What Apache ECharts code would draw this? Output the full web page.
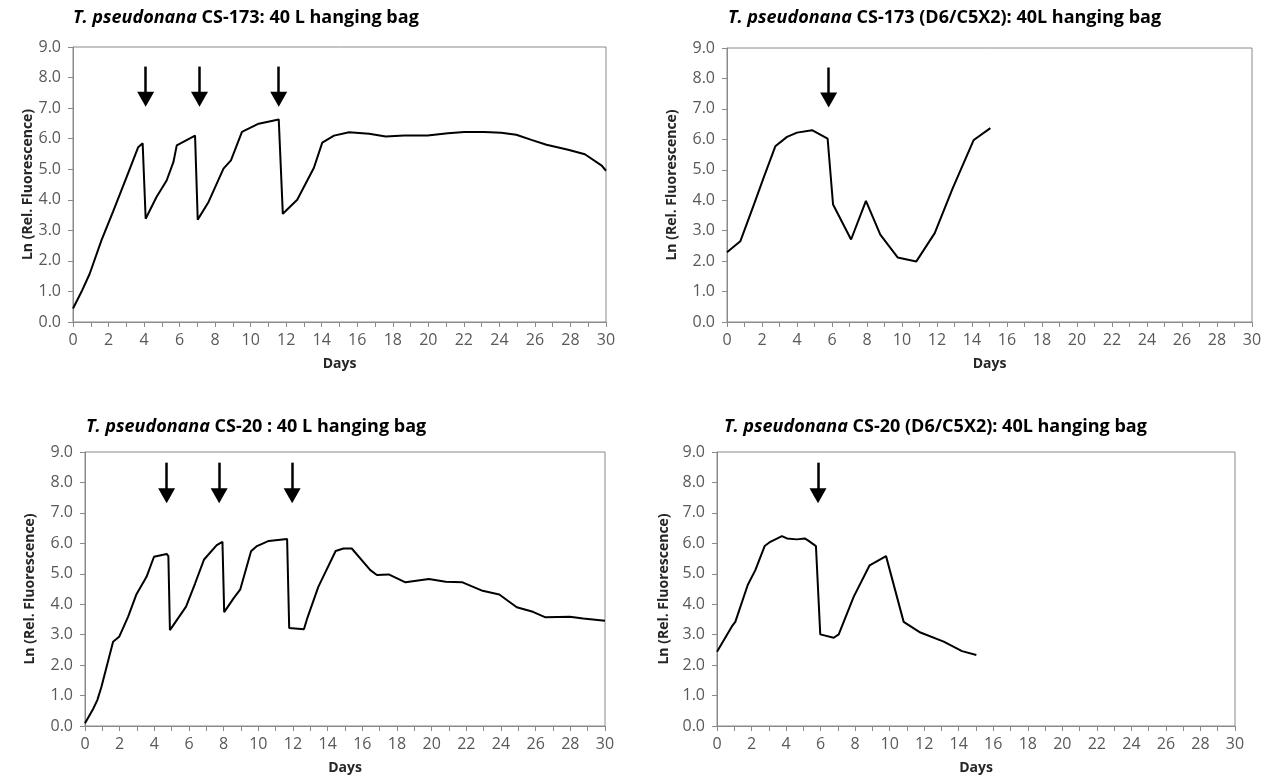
<!DOCTYPE html>
<html>
<head>
<meta charset="utf-8">
<script src="https://cdn.jsdelivr.net/npm/echarts@6/dist/echarts.min.js"></script>
<style>
html,body{margin:0;padding:0;background:#fff;}
#chart{width:1267px;height:780px;}
</style>
</head>
<body>
<div id="chart"></div>
<script>
// ---- Data ----
// Panel A: T. pseudonana CS-173, 40 L hanging bag
const cs173Days = [0, 0.47, 0.94, 1.6, 2.26, 3.0, 3.67, 3.92, 4.09, 4.7, 5.27, 5.65, 5.84, 6.87, 7.02, 7.63, 8.47, 8.89, 9.51, 10.45, 11.58, 11.81, 12.62, 13.56, 14.03, 14.69, 15.54, 16.67, 17.6, 18.64, 19.96, 21.1, 22.03, 23.16, 24.1, 24.95, 25.8, 26.65, 27.87, 28.81, 29.76, 30];
const cs173Vals = [0.44, 0.98, 1.58, 2.67, 3.62, 4.72, 5.72, 5.85, 3.38, 4.09, 4.63, 5.23, 5.78, 6.1, 3.35, 3.93, 5.02, 5.29, 6.22, 6.49, 6.63, 3.54, 4.0, 5.05, 5.87, 6.1, 6.21, 6.16, 6.07, 6.1, 6.1, 6.18, 6.22, 6.22, 6.19, 6.13, 5.96, 5.8, 5.64, 5.49, 5.12, 4.95];
const cs173Arrows = [4.09, 7.12, 11.58];

// Panel B: T. pseudonana CS-173 (D6/C5X2), 40L hanging bag
const cs173tDays = [0, 0.76, 1.5, 2.1, 2.76, 3.43, 4.0, 4.86, 5.75, 6.06, 7.09, 7.94, 8.76, 9.75, 10.82, 11.87, 12.9, 14.1, 15.05];
const cs173tVals = [2.29, 2.65, 3.8, 4.75, 5.77, 6.08, 6.22, 6.3, 6.02, 3.86, 2.71, 3.98, 2.87, 2.12, 1.99, 2.92, 4.4, 5.98, 6.37];
const cs173tArrows = [5.81];

// Panel C: T. pseudonana CS-20, 40 L hanging bag
const cs20Days = [0, 0.46, 0.71, 0.95, 1.62, 1.97, 2.49, 2.97, 3.55, 3.98, 4.71, 4.81, 4.9, 5.0, 5.83, 6.35, 6.87, 7.6, 7.93, 8.03, 8.57, 8.96, 9.58, 9.92, 10.6, 11.66, 11.78, 12.63, 12.8, 13.46, 14.46, 14.91, 15.39, 16.46, 16.84, 17.52, 18.49, 19.84, 20.81, 21.78, 22.94, 23.9, 24.91, 25.84, 26.57, 27.97, 28.74, 30];
const cs20Vals = [0.09, 0.55, 0.85, 1.29, 2.77, 2.93, 3.59, 4.33, 4.9, 5.56, 5.65, 5.58, 3.15, 3.13, 3.92, 4.68, 5.47, 5.94, 6.05, 3.74, 4.19, 4.49, 5.74, 5.91, 6.08, 6.14, 3.22, 3.18, 3.5, 4.57, 5.75, 5.83, 5.83, 5.12, 4.96, 4.98, 4.72, 4.83, 4.74, 4.72, 4.44, 4.32, 3.9, 3.75, 3.57, 3.59, 3.53, 3.46];
const cs20Arrows = [4.71, 7.74, 11.95];

// Panel D: T. pseudonana CS-20 (D6/C5X2), 40L hanging bag
const cs20tDays = [0, 0.87, 1.06, 1.78, 2.22, 2.76, 3.09, 3.76, 4.05, 4.63, 5.08, 5.31, 5.73, 5.98, 6.76, 7.05, 7.92, 8.84, 9.79, 10.81, 11.78, 13.13, 14.19, 15.02];
const cs20tVals = [2.44, 3.28, 3.42, 4.63, 5.12, 5.91, 6.05, 6.24, 6.16, 6.13, 6.16, 6.08, 5.91, 3.01, 2.9, 3.01, 4.25, 5.28, 5.58, 3.42, 3.07, 2.77, 2.46, 2.33];
const cs20tArrows = [5.85];

// Arrow extents (Ln units): shaft top and arrow-tip level per row
const arrowTopRow1 = 8.36, arrowTipRow1 = 7.04;
const arrowTopRow2 = 8.65, arrowTipRow2 = 7.31;

const titles = [
  '{i|T. pseudonana} CS-173: 40 L hanging bag',
  '{i|T. pseudonana} CS-173 (D6/C5X2): 40L hanging bag',
  '{i|T. pseudonana} CS-20 : 40 L hanging bag',
  '{i|T. pseudonana} CS-20 (D6/C5X2): 40L hanging bag'
];
const xName = 'Days';
const yName = 'Ln (Rel. Fluorescence)';

// ---- Chart ----
const FONT = '"Open Sans", Lato, sans-serif';
const HEAD_HALF = 0.25; // half arrow-head height in Ln units
const panels = [
  {days: cs173Days, vals: cs173Vals, arrows: cs173Arrows, top: arrowTopRow1, tip: arrowTipRow1,
   grid: {left: 73, top: 47, width: 533, height: 275}, tLeft: 73, tTop: 9, nameGap: 36},
  {days: cs173tDays, vals: cs173tVals, arrows: cs173tArrows, top: arrowTopRow1, tip: arrowTipRow1,
   grid: {left: 727, top: 48, width: 525, height: 274}, tLeft: 728, tTop: 9, nameGap: 48},
  {days: cs20Days, vals: cs20Vals, arrows: cs20Arrows, top: arrowTopRow2, tip: arrowTipRow2,
   grid: {left: 85, top: 452, width: 520, height: 274}, tLeft: 86, tTop: 418, nameGap: 48},
  {days: cs20tDays, vals: cs20tVals, arrows: cs20tArrows, top: arrowTopRow2, tip: arrowTipRow2,
   grid: {left: 717, top: 452, width: 518, height: 274}, tLeft: 724, tTop: 418, nameGap: 46}
];

const AXIS_COLOR = '#8a8a8a';
const LABEL_COLOR = '#595959';

const option = {
  animation: false,
  backgroundColor: '#fff',
  title: panels.map((p, i) => ({
    text: titles[i],
    left: p.tLeft,
    top: p.tTop,
    padding: 0,
    textStyle: {
      fontFamily: FONT, fontWeight: 'bold', fontSize: 18, color: '#000',
      rich: { i: { fontFamily: FONT, fontWeight: 'bold', fontStyle: 'italic', fontSize: 18, color: '#000' } }
    }
  })),
  grid: panels.map(p => Object.assign({show: true, borderColor: AXIS_COLOR, borderWidth: 1, backgroundColor: 'transparent'}, p.grid)),
  xAxis: panels.map((p, i) => ({
    type: 'value', gridIndex: i, min: 0, max: 30, interval: 1,
    name: xName, nameLocation: 'middle', nameGap: 35,
    nameTextStyle: {fontFamily: FONT, fontWeight: 'bold', fontSize: 14, color: '#262626'},
    axisLine: {show: true, onZero: false, lineStyle: {color: AXIS_COLOR, width: 1}},
    axisTick: {show: true, length: 5, lineStyle: {color: AXIS_COLOR}},
    axisLabel: {fontFamily: FONT, fontSize: 16, color: LABEL_COLOR, margin: 10,
      formatter: v => (v % 2 === 0 ? String(v) : '')},
    splitLine: {show: false}
  })),
  yAxis: panels.map((p, i) => ({
    type: 'value', gridIndex: i, min: 0, max: 9, interval: 1,
    name: yName, nameLocation: 'middle', nameGap: p.nameGap, nameRotate: 90,
    nameTextStyle: {fontFamily: FONT, fontWeight: 'bold', fontSize: 14, color: '#262626'},
    axisLine: {show: true, onZero: false, lineStyle: {color: AXIS_COLOR, width: 1}},
    axisTick: {show: true, length: 5, lineStyle: {color: AXIS_COLOR}},
    axisLabel: {fontFamily: FONT, fontSize: 16, color: LABEL_COLOR, margin: 12,
      formatter: v => v.toFixed(1)},
    splitLine: {show: false}
  })),
  series: panels.map((p, i) => ({
    type: 'line', xAxisIndex: i, yAxisIndex: i,
    data: p.days.map((d, k) => [d, p.vals[k]]),
    showSymbol: false, symbol: 'none', smooth: false,
    lineStyle: {color: '#000', width: 2},
    itemStyle: {color: '#000'},
    silent: true,
    markLine: {
      silent: true, animation: false,
      symbol: ['none', 'triangle'], symbolSize: [17, 15],
      lineStyle: {color: '#000', width: 2.5, type: 'solid'},
      itemStyle: {color: '#000'},
      label: {show: false},
      emphasis: {disabled: true},
      data: p.arrows.map(d => [{coord: [d, p.top]}, {coord: [d, p.tip + HEAD_HALF]}])
    }
  }))
};

const chart = echarts.init(document.getElementById('chart'), null, {renderer: 'canvas'});
chart.setOption(option);
</script>
</body>
</html>
